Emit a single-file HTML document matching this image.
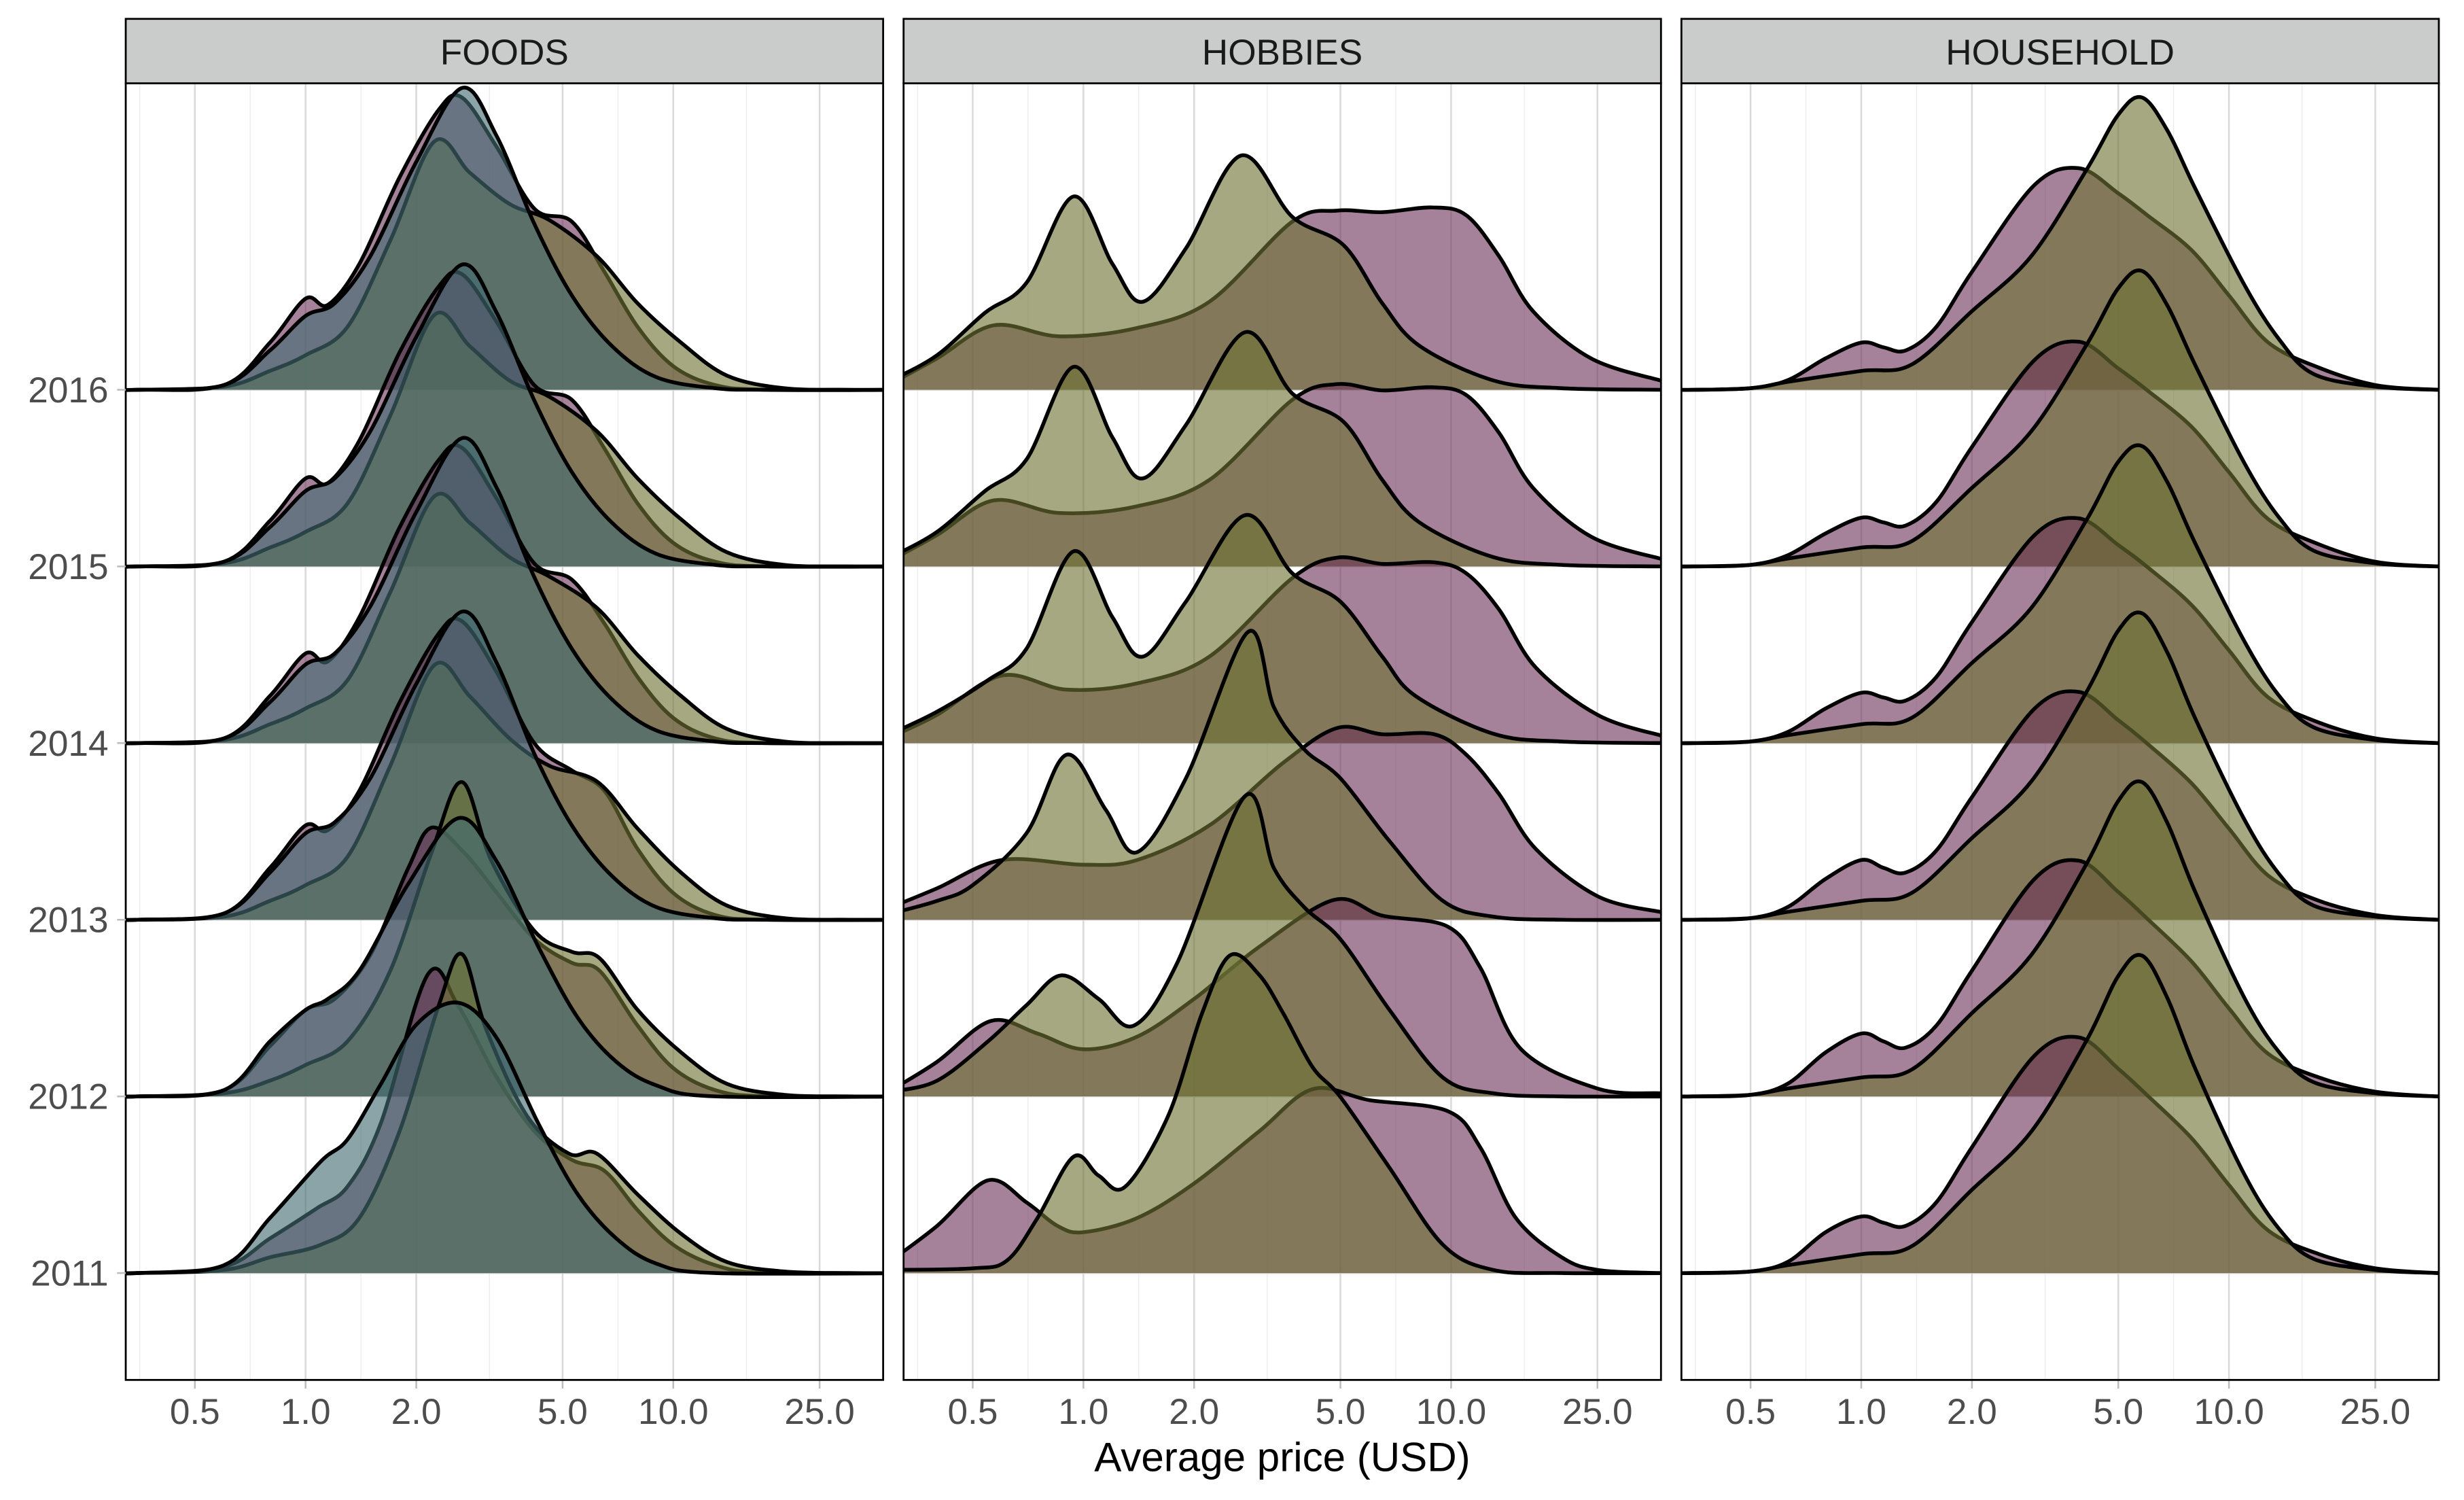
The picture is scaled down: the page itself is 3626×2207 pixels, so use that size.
<!DOCTYPE html>
<html><head><meta charset="utf-8"><title>Average price ridgelines</title>
<style>
html,body{margin:0;padding:0;background:#fff;}
svg{display:block;}
text{font-family:"Liberation Sans",Arial,sans-serif;}
</style></head>
<body>
<svg id="chart" xmlns="http://www.w3.org/2000/svg" width="3626" height="2207" viewBox="0 0 1568 954.4">
<rect x="0" y="0" width="1568" height="954.4" fill="#ffffff"/>
<g id="panels"></g>
<text x="816" y="936" font-size="26" text-anchor="middle" fill="#000">Average price (USD)</text>
</svg>
<script>
// ---------- data ----------
const categories = ['FOODS','HOBBIES','HOUSEHOLD'];
const years = ['2011','2012','2013','2014','2015','2016'];
const tickValues = [0.5,1,2,5,10,25];
const tickLabels = ['0.5','1.0','2.0','5.0','10.0','25.0'];
const minorValues = [0.354,0.707,1.414,3.162,7.071,15.81];
const seriesNames = ['purple','olive','blue'];

// FOODS  [price, density]
const foodsPurple2016=[[.35,0],[.6,.03],[.8,.30],[1,.58],[1.15,.54],[1.4,.80],[1.8,1.35],[2.3,1.78],[2.66,1.86],[3.3,1.55],[4.2,1.15],[5.3,1.07],[6.5,.75],[8,.40],[10,.15],[13,.03],[18,0]];
const foodsBlue2016=[[.35,0],[.6,.03],[.8,.25],[1,.47],[1.2,.55],[1.5,.85],[2,1.45],[2.66,1.92],[3.3,1.62],[4.2,1.05],[5.3,.60],[6.8,.28],[9,.08],[13,.01],[18,0]];
const foodsOlive2016=[[.35,0],[.6,.02],[.8,.12],[1,.22],[1.3,.40],[1.7,.95],[2.24,1.58],[2.8,1.38],[3.6,1.18],[4.6,1.08],[6.2,.85],[8,.55],[10.5,.30],[14,.09],[20,.01],[30,0]];
const foodsPurple2015=[[.35,0],[.6,.03],[.8,.29],[1,.56],[1.15,.53],[1.4,.80],[1.8,1.36],[2.3,1.78],[2.66,1.86],[3.3,1.56],[4.2,1.15],[5.3,1.06],[6.5,.75],[8,.40],[10,.15],[13,.03],[18,0]];
const foodsBlue2015=[[.35,0],[.6,.03],[.8,.25],[1,.48],[1.2,.56],[1.5,.86],[2,1.46],[2.66,1.92],[3.3,1.62],[4.2,1.05],[5.3,.60],[6.8,.28],[9,.08],[13,.01],[18,0]];
const foodsOlive2015=[[.35,0],[.6,.02],[.8,.12],[1,.22],[1.3,.40],[1.7,.96],[2.24,1.60],[2.8,1.40],[3.6,1.18],[4.6,1.08],[6.2,.86],[8,.56],[10.5,.30],[14,.09],[20,.01],[30,0]];
const foodsPurple2014=[[.35,0],[.6,.03],[.8,.30],[1,.57],[1.15,.52],[1.4,.80],[1.8,1.37],[2.3,1.80],[2.66,1.88],[3.3,1.56],[4.2,1.14],[5.3,1.04],[6.5,.76],[8,.42],[10,.16],[13,.03],[18,0]];
const foodsBlue2014=[[.35,0],[.6,.03],[.8,.26],[1,.50],[1.2,.57],[1.5,.87],[2,1.47],[2.66,1.94],[3.3,1.63],[4.2,1.05],[5.3,.60],[6.8,.28],[9,.08],[13,.01],[18,0]];
const foodsOlive2014=[[.35,0],[.6,.02],[.8,.12],[1,.22],[1.3,.40],[1.7,.96],[2.24,1.57],[2.8,1.40],[3.6,1.18],[4.6,1.06],[6.2,.86],[8,.56],[10.5,.30],[14,.09],[20,.01],[30,0]];
const foodsPurple2013=[[.35,0],[.6,.04],[.8,.33],[1,.60],[1.15,.57],[1.4,.82],[1.8,1.38],[2.3,1.82],[2.66,1.90],[3.3,1.58],[4.2,1.12],[5.3,.95],[6.5,.82],[8,.45],[10,.17],[13,.03],[18,0]];
const foodsBlue2013=[[.35,0],[.6,.04],[.8,.30],[1,.55],[1.2,.62],[1.5,.90],[2,1.50],[2.66,1.96],[3.3,1.64],[4.2,1.05],[5.3,.60],[6.8,.28],[9,.08],[13,.01],[18,0]];
const foodsOlive2013=[[.35,0],[.6,.02],[.8,.12],[1,.22],[1.3,.40],[1.7,.98],[2.24,1.62],[2.8,1.42],[3.6,1.15],[4.6,.98],[6.2,.88],[8,.58],[10.5,.30],[14,.09],[20,.01],[30,0]];
const foodsPurple2012=[[.35,0],[.6,.04],[.8,.32],[1,.55],[1.2,.62],[1.5,.90],[1.9,1.45],[2.2,1.71],[2.7,1.55],[3.3,1.30],[4.2,1.00],[5.3,.85],[6.3,.80],[8,.45],[10,.18],[13,.04],[18,0]];
const foodsBlue2012=[[.35,0],[.6,.04],[.8,.35],[1,.55],[1.15,.62],[1.4,.80],[1.9,1.35],[2.6,1.77],[3.3,1.50],[4.3,.95],[5.5,.50],[7,.22],[9,.07],[13,0]];
const foodsOlive2012=[[.35,0],[.6,.02],[.8,.10],[1,.20],[1.3,.35],[1.7,.80],[2.2,1.55],[2.66,2.00],[3.2,1.50],[4.2,1.05],[5.3,.92],[6.3,.88],[8,.55],[10.5,.28],[14,.08],[20,.01],[30,0]];
const foodsPurple2011=[[.35,0],[.6,.04],[.8,.22],[1.07,.41],[1.3,.55],[1.6,.95],[2.15,1.90],[2.6,1.70],[3.3,1.25],[4.2,.90],[5.3,.72],[6.5,.65],[8,.40],[10,.18],[13,.05],[18,0]];
const foodsBlue2011=[[.35,0],[.6,.05],[.8,.35],[1.1,.71],[1.3,.85],[1.6,1.20],[2,1.58],[2.6,1.72],[3.3,1.50],[4.3,.95],[5.5,.50],[7,.22],[9,.06],[13,0]];
const foodsOlive2011=[[.35,0],[.6,.02],[.8,.10],[1.1,.18],[1.4,.35],[1.8,.90],[2.3,1.70],[2.66,2.03],[3.1,1.55],[4,1.00],[5.2,.76],[6.2,.76],[8,.50],[10.5,.25],[14,.07],[20,.01],[30,0]];

// HOBBIES
const hobbiesPurple2016=[[.3,.04],[.4,.20],[.57,.41],[.86,.34],[1.38,.39],[2.2,.56],[3.7,1.07],[4.9,1.14],[6.5,1.13],[8.9,1.16],[11,1.11],[13.5,.85],[16.7,.50],[24,.20],[37,.06],[40,.05]];
const hobbiesOlive2016=[[.3,.06],[.4,.22],[.54,.49],[.7,.68],[.94,1.23],[1.2,.80],[1.45,.56],[1.9,.90],[2.68,1.49],[3.7,1.10],[5.1,.92],[6.5,.55],[8.2,.28],[13,.06],[20,.01],[37,0]];
const hobbiesPurple2015=[[.3,.04],[.4,.20],[.57,.42],[.86,.34],[1.38,.38],[2.2,.55],[3.7,1.06],[4.9,1.16],[6.5,1.12],[8.9,1.14],[11,1.09],[13.5,.85],[16.7,.50],[24,.19],[37,.05],[40,.05]];
const hobbiesOlive2015=[[.3,.06],[.4,.22],[.54,.48],[.7,.68],[.94,1.27],[1.2,.82],[1.45,.56],[1.9,.90],[2.75,1.49],[3.7,1.10],[5.1,.92],[6.5,.55],[8.2,.28],[13,.06],[20,.01],[37,0]];
const hobbiesPurple2014=[[.3,.04],[.4,.18],[.6,.43],[.9,.34],[1.4,.38],[2.2,.55],[3.7,1.05],[4.9,1.18],[6.5,1.14],[9,1.15],[11,1.08],[13.5,.85],[17,.48],[25,.18],[37,.05],[40,.05]];
const hobbiesOlive2014=[[.3,.06],[.4,.20],[.55,.40],[.7,.60],[.94,1.22],[1.2,.80],[1.45,.55],[1.9,.90],[2.75,1.45],[3.7,1.08],[5,.90],[6.5,.55],[8,.30],[13,.06],[20,.01],[37,0]];
const hobbiesPurple2013=[[.3,.08],[.4,.20],[.6,.38],[1,.35],[1.4,.38],[2.2,.60],[3.5,1.00],[4.9,1.22],[6.5,1.18],[9,1.18],[11,1.05],[13.5,.80],[17,.45],[25,.15],[37,.05],[40,.05]];
const hobbiesOlive2013=[[.3,.04],[.4,.12],[.5,.22],[.7,.55],[.9,1.05],[1.15,.70],[1.4,.43],[1.9,.90],[2.8,1.83],[3.3,1.35],[4,1.08],[5,.90],[6.8,.50],[9.5,.12],[13,.02],[20,0]];
const hobbiesPurple2012=[[.3,.04],[.4,.22],[.56,.48],[.75,.40],[1,.30],[1.4,.38],[2,.62],[3,.95],[4.8,1.25],[6.5,1.15],[9.8,1.08],[12,.82],[15.5,.30],[25,.05],[37,.02],[42,.02]];
const hobbiesOlive2012=[[.3,.03],[.4,.10],[.55,.35],[.7,.58],[.87,.77],[1.1,.62],[1.37,.45],[1.8,.85],[2.75,1.91],[3.3,1.45],[4,1.20],[5,1.00],[6.8,.55],[9.5,.12],[13,.02],[20,0]];
const hobbiesPurple2011=[[.3,.08],[.4,.30],[.55,.59],[.7,.45],[.85,.30],[1,.26],[1.4,.35],[2,.57],[3,.90],[4.2,1.17],[6,1.10],[9.8,1.03],[12,.80],[15,.35],[20,.10],[25,.02],[37,0]];
const hobbiesOlive2011=[[.3,.02],[.5,.03],[.62,.08],[.75,.35],[.94,.74],[1.1,.62],[1.3,.55],[1.7,1.0],[2.1,1.65],[2.5,2.02],[3,1.90],[3.5,1.65],[4.2,1.31],[5,1.12],[6.8,.67],[9.5,.18],[13,.02],[20,0]];

// HOUSEHOLD
const householdPurple2016=[[.35,0],[.5,.01],[.63,.06],[.8,.20],[1,.30],[1.15,.27],[1.32,.25],[1.6,.40],[2,.75],[2.95,1.30],[3.9,1.41],[5,1.25],[6,1.11],[7.9,.89],[10,.60],[12.8,.30],[17.6,.14],[25,.03],[37,0]];
const householdOlive2016=[[.35,0],[.5,.01],[.63,.05],[1,.12],[1.37,.16],[2,.50],[2.9,.85],[4.1,1.40],[5,1.75],[5.8,1.86],[6.8,1.65],[8.1,1.28],[11,.67],[13.7,.32],[17,.10],[25,.02],[37,0]];
const householdPurple2015=[[.35,0],[.5,.01],[.63,.07],[.8,.21],[1,.31],[1.15,.28],[1.32,.26],[1.6,.41],[2,.76],[2.95,1.31],[3.9,1.43],[5,1.26],[6,1.12],[7.9,.89],[10,.60],[12.8,.30],[17.6,.14],[25,.03],[37,0]];
const householdOlive2015=[[.35,0],[.5,.01],[.63,.05],[1,.12],[1.37,.16],[2,.50],[2.9,.86],[4.1,1.41],[5,1.77],[5.8,1.88],[6.8,1.66],[8.1,1.28],[11,.66],[13.7,.31],[17,.10],[25,.02],[37,0]];
const householdPurple2014=[[.35,0],[.5,.01],[.63,.07],[.8,.22],[1,.32],[1.15,.29],[1.32,.27],[1.6,.42],[2,.77],[2.95,1.32],[3.9,1.43],[5,1.26],[6,1.12],[7.9,.88],[10,.59],[12.8,.29],[17.6,.13],[25,.03],[37,0]];
const householdOlive2014=[[.35,0],[.5,.01],[.63,.05],[1,.12],[1.37,.16],[2,.51],[2.9,.86],[4.1,1.42],[5,1.79],[5.8,1.89],[6.8,1.66],[8.1,1.27],[11,.65],[13.7,.30],[17,.10],[25,.02],[37,0]];
const householdPurple2013=[[.35,0],[.5,.01],[.63,.08],[.8,.26],[1,.38],[1.15,.33],[1.32,.30],[1.6,.44],[2,.78],[2.95,1.34],[3.9,1.45],[5,1.27],[6,1.12],[7.9,.87],[10,.58],[12.8,.28],[17.6,.12],[25,.03],[37,0]];
const householdOlive2013=[[.35,0],[.5,.01],[.63,.05],[1,.12],[1.37,.17],[2,.52],[2.9,.88],[4.1,1.45],[5,1.84],[5.8,1.95],[6.8,1.70],[8.1,1.28],[11,.64],[13.7,.29],[17,.09],[25,.02],[37,0]];
const householdPurple2012=[[.35,0],[.5,.01],[.63,.08],[.8,.28],[1,.40],[1.15,.35],[1.32,.31],[1.6,.45],[2,.80],[2.95,1.38],[3.9,1.50],[5,1.30],[6,1.13],[7.9,.86],[10,.56],[12.8,.27],[17.6,.12],[25,.03],[37,0]];
const householdOlive2012=[[.35,0],[.5,.01],[.63,.05],[1,.12],[1.37,.17],[2,.53],[2.9,.90],[4.1,1.48],[5,1.88],[5.8,2.00],[6.8,1.74],[8.1,1.30],[11,.63],[13.7,.28],[17,.09],[25,.02],[37,0]];
const householdPurple2011=[[.35,0],[.5,.01],[.63,.07],[.8,.26],[1,.36],[1.15,.32],[1.32,.30],[1.6,.45],[2,.80],[2.95,1.38],[3.9,1.50],[5,1.30],[6,1.13],[7.9,.86],[10,.56],[12.8,.27],[17.6,.12],[25,.03],[37,0]];
const householdOlive2011=[[.35,0],[.5,.01],[.63,.05],[1,.12],[1.37,.17],[2,.53],[2.9,.90],[4.1,1.48],[5,1.89],[5.8,2.02],[6.8,1.75],[8.1,1.30],[11,.63],[13.7,.28],[17,.09],[25,.02],[37,0]];

const seriesByPanel = {
  FOODS: {
    purple:[foodsPurple2011,foodsPurple2012,foodsPurple2013,foodsPurple2014,foodsPurple2015,foodsPurple2016],
    olive:[foodsOlive2011,foodsOlive2012,foodsOlive2013,foodsOlive2014,foodsOlive2015,foodsOlive2016],
    blue:[foodsBlue2011,foodsBlue2012,foodsBlue2013,foodsBlue2014,foodsBlue2015,foodsBlue2016]
  },
  HOBBIES: {
    purple:[hobbiesPurple2011,hobbiesPurple2012,hobbiesPurple2013,hobbiesPurple2014,hobbiesPurple2015,hobbiesPurple2016],
    olive:[hobbiesOlive2011,hobbiesOlive2012,hobbiesOlive2013,hobbiesOlive2014,hobbiesOlive2015,hobbiesOlive2016]
  },
  HOUSEHOLD: {
    purple:[householdPurple2011,householdPurple2012,householdPurple2013,householdPurple2014,householdPurple2015,householdPurple2016],
    olive:[householdOlive2011,householdOlive2012,householdOlive2013,householdOlive2014,householdOlive2015,householdOlive2016]
  }
};

// ---------- layout / styles ----------
const NS='http://www.w3.org/2000/svg';
const panelLeft=[80,575,1070], panelW=482, panelTop=53, panelBottom=878, stripTop=12;
const yBase0=810, yStep=112.4, hScale=100;
const fills={purple:'#6e365b',olive:'#6e7333',blue:'#426c72'};
function xScale(p,v){return panelLeft[p]+44+234*Math.log10(v/0.5);}
function yScale(i){return yBase0-i*yStep;}
function mk(tag,attrs,parent){const e=document.createElementNS(NS,tag);for(const k in attrs)e.setAttribute(k,attrs[k]);parent.appendChild(e);return e;}
function crPath(pts){
  let d='M'+pts[0][0].toFixed(2)+','+pts[0][1].toFixed(2);
  for(let i=0;i<pts.length-1;i++){
    const p0=pts[Math.max(0,i-1)],p1=pts[i],p2=pts[i+1],p3=pts[Math.min(pts.length-1,i+2)];
    const c1x=p1[0]+(p2[0]-p0[0])/6,c1y=p1[1]+(p2[1]-p0[1])/6;
    const c2x=p2[0]-(p3[0]-p1[0])/6,c2y=p2[1]-(p3[1]-p1[1])/6;
    d+='C'+c1x.toFixed(2)+','+c1y.toFixed(2)+' '+c2x.toFixed(2)+','+c2y.toFixed(2)+' '+p2[0].toFixed(2)+','+p2[1].toFixed(2);
  }
  return d;
}

const root=document.getElementById('panels');
const defs=mk('defs',{},root);

categories.forEach((cat,p)=>{
  const L=panelLeft[p];
  const g=mk('g',{},root);
  
  
  const cp=mk('clipPath',{id:'clip'+p},defs);
  mk('rect',{x:L,y:panelTop,width:panelW,height:panelBottom-panelTop},cp);
  minorValues.forEach(v=>{
    const x=xScale(p,v);
    const l=mk('line',{x1:x,x2:x,y1:panelTop,y2:panelBottom,stroke:'#ececec','stroke-width':0.6},g);
    
    
  });
  tickValues.forEach((v,k)=>{
    const x=xScale(p,v);
    const l=mk('line',{x1:x,x2:x,y1:panelTop,y2:panelBottom,stroke:'#d9d9d9','stroke-width':1.1},g);
    
    
    const t=mk('line',{x1:x,x2:x,y1:panelBottom,y2:panelBottom+5.5,stroke:'#bdbdbd','stroke-width':1.1},g);
    
    
    const tx=mk('text',{x:x,y:906,'font-size':23,'text-anchor':'middle',fill:'#4d4d4d'},g);
    tx.textContent=tickLabels[k];
    
    
  });
  years.forEach((yr,i)=>{
    const y=yScale(i);
    const l=mk('line',{x1:L,x2:L+panelW,y1:y,y2:y,stroke:'#d9d9d9','stroke-width':1.1},g);
    
    
  });
  const rg=mk('g',{'clip-path':'url(#clip'+p+')'},g);
  
  
  const ser=seriesByPanel[cat];
  for(let i=years.length-1;i>=0;i--){
    const base=yScale(i);
    Object.keys(ser).forEach(name=>{
      let data=ser[name][i].slice();
      if(data[0][0]>0.31) data.unshift([0.25,0]);
      if(data[data.length-1][0]<38) data.push([45,0]);
      const pts=data.map(d=>[xScale(p,d[0]),base-d[1]*hScale]);
      const line=crPath(pts);
      const first=pts[0],last=pts[pts.length-1];
      const area=mk('path',{d:line+'L'+last[0].toFixed(2)+','+base+'L'+first[0].toFixed(2)+','+base+'Z',fill:fills[name],'fill-opacity':0.62,stroke:'none'},rg);
      
      
      const ol=mk('path',{d:line,fill:'none',stroke:'#000','stroke-width':2.4,'stroke-linejoin':'round'},rg);
      
      
    });
  }
  const bd=mk('rect',{x:L,y:panelTop,width:panelW,height:panelBottom-panelTop,fill:'none',stroke:'#000','stroke-width':1.2},g);
  
  
  const st=mk('rect',{x:L,y:stripTop,width:panelW,height:panelTop-stripTop,fill:'#cacccb',stroke:'#000','stroke-width':1.2},g);
  
  
  const stt=mk('text',{x:L+panelW/2,y:41,'font-size':23,'text-anchor':'middle',fill:'#1a1a1a'},g);
  stt.textContent=cat;
  
  
});

const yg=mk('g',{},root);


years.forEach((yr,i)=>{
  const y=yScale(i);
  const t=mk('line',{x1:74.5,x2:80,y1:y,y2:y,stroke:'#bdbdbd','stroke-width':1.1},yg);
  
  
  const tx=mk('text',{x:69,y:y+8,'font-size':23,'text-anchor':'end',fill:'#4d4d4d'},yg);
  tx.textContent=yr;
  
  
});
</script>
</body></html>
